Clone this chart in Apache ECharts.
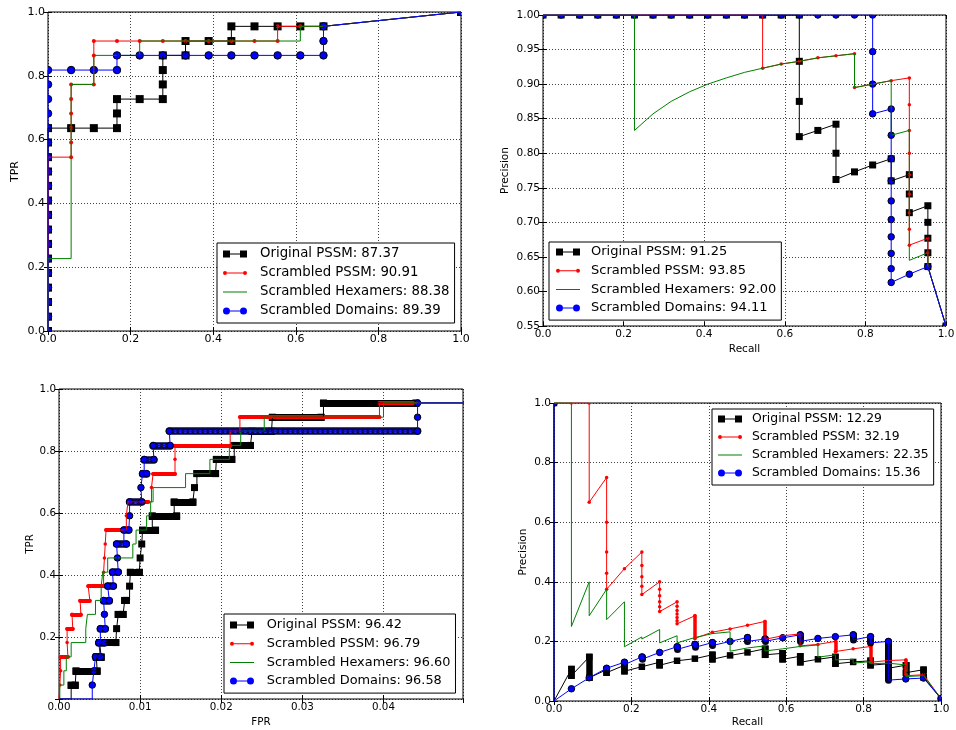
<!DOCTYPE html>
<html>
<head>
<meta charset="utf-8">
<title>ROC / PR curves</title>
<style>
  html, body { margin: 0; padding: 0; background: #fff; }
  #main { width: 956px; height: 730px; }
</style>
</head>
<body>
<div id="main"></div>
<script src="https://cdn.jsdelivr.net/npm/echarts@6.0.0/dist/echarts.min.js"></script>
<script>
// ---------- data ----------
// legend labels (name: score)
var roc1Names = ['Original PSSM: 87.37', 'Scrambled PSSM: 90.91', 'Scrambled Hexamers: 88.38', 'Scrambled Domains: 89.39'];
var pr1Names  = ['Original PSSM: 91.25', 'Scrambled PSSM: 93.85', 'Scrambled Hexamers: 92.00', 'Scrambled Domains: 94.11'];
var roc2Names = ['Original PSSM: 96.42', 'Scrambled PSSM: 96.79', 'Scrambled Hexamers: 96.60', 'Scrambled Domains: 96.58'];
var pr2Names  = ['Original PSSM: 12.29', 'Scrambled PSSM: 32.19', 'Scrambled Hexamers: 22.35', 'Scrambled Domains: 15.36'];

// top-left ROC, [FPR, TPR]
var roc1Black = [[0,0],[0,0.045],[0,0.091],[0,0.136],[0,0.182],[0,0.227],[0,0.273],[0,0.318],[0,0.364],[0,0.409],[0,0.455],[0,0.5],[0,0.545],[0,0.591],[0,0.636],
  [0.056,0.636],[0.111,0.636],[0.167,0.636],[0.167,0.682],[0.167,0.727],[0.222,0.727],[0.278,0.727],[0.278,0.773],[0.278,0.818],[0.278,0.864],
  [0.333,0.864],[0.333,0.909],[0.389,0.909],[0.444,0.909],[0.444,0.955],[0.5,0.955],[0.556,0.955],[0.611,0.955],[0.667,0.955],[1,1]];
var roc1Red = [[0,0],[0,0.045],[0,0.091],[0,0.136],[0,0.182],[0,0.227],[0,0.273],[0,0.318],[0,0.364],[0,0.409],[0,0.455],[0,0.5],[0,0.545],
  [0.056,0.545],[0.056,0.591],[0.056,0.636],[0.056,0.682],[0.056,0.727],[0.056,0.773],[0.111,0.773],[0.111,0.864],[0.111,0.909],
  [0.167,0.909],[0.222,0.909],[0.278,0.909],[0.333,0.909],[0.389,0.909],[0.444,0.909],[0.5,0.909],[0.556,0.909],[0.556,0.955],[0.611,0.955],[0.667,0.955],[1,1]];
var roc1Green = [[0,0],[0,0.227],[0.056,0.227],[0.056,0.773],[0.111,0.773],[0.111,0.864],[0.222,0.864],[0.222,0.909],[0.611,0.909],[0.611,0.955],[0.667,0.955],[1,1]];
var roc1Blue = [[0,0],[0,0.045],[0,0.091],[0,0.136],[0,0.182],[0,0.227],[0,0.273],[0,0.318],[0,0.364],[0,0.409],[0,0.455],[0,0.5],[0,0.545],[0,0.591],[0,0.636],[0,0.682],[0,0.727],[0,0.773],[0,0.818],
  [0.056,0.818],[0.111,0.818],[0.167,0.818],[0.167,0.864],[0.222,0.864],[0.278,0.864],[0.333,0.864],[0.389,0.864],[0.444,0.864],[0.5,0.864],[0.556,0.864],[0.611,0.864],[0.667,0.864],
  [0.667,0.909],[0.667,0.955],[1,1]];

// top-right PR, [recall, precision]
var pr1Black = [[0,1],[0.045,1],[0.091,1],[0.136,1],[0.182,1],[0.227,1],[0.273,1],[0.318,1],[0.364,1],[0.409,1],[0.455,1],[0.5,1],[0.545,1],[0.591,1],[0.636,1],
  [0.636,0.933],[0.636,0.875],[0.636,0.824],[0.682,0.833],[0.727,0.842],[0.727,0.8],[0.727,0.762],[0.773,0.773],[0.818,0.783],[0.864,0.792],[0.864,0.76],
  [0.909,0.769],[0.909,0.741],[0.909,0.714],[0.955,0.724],[0.955,0.7],[0.955,0.677],[0.955,0.656],[0.955,0.636],[1,0.55]];
var pr1Red = [[0,1],[0.045,1],[0.091,1],[0.136,1],[0.182,1],[0.227,1],[0.273,1],[0.318,1],[0.364,1],[0.409,1],[0.455,1],[0.5,1],[0.545,1],
  [0.545,0.923],[0.591,0.929],[0.636,0.933],[0.682,0.938],[0.727,0.941],[0.773,0.944],[0.773,0.895],[0.818,0.9],[0.864,0.905],[0.909,0.909],
  [0.909,0.87],[0.909,0.833],[0.909,0.8],[0.909,0.769],[0.909,0.741],[0.909,0.714],[0.909,0.69],[0.909,0.667],[0.955,0.677],[0.955,0.656],[0.955,0.636],[1,0.55]];
var pr1Green = [[0,1],[0.227,1],[0.227,0.833],[0.273,0.857],[0.318,0.875],[0.364,0.889],[0.409,0.9],[0.455,0.909],[0.5,0.917],[0.545,0.923],[0.591,0.929],
  [0.636,0.933],[0.682,0.938],[0.727,0.941],[0.773,0.944],[0.773,0.895],[0.818,0.9],[0.864,0.905],[0.864,0.826],[0.909,0.833],[0.909,0.645],[0.955,0.656],[0.955,0.636],[1,0.55]];
var pr1Blue = [[0,1],[0.045,1],[0.091,1],[0.136,1],[0.182,1],[0.227,1],[0.273,1],[0.318,1],[0.364,1],[0.409,1],[0.455,1],[0.5,1],[0.545,1],[0.591,1],[0.636,1],[0.682,1],[0.727,1],[0.773,1],[0.818,1],
  [0.818,0.947],[0.818,0.9],[0.818,0.857],[0.864,0.864],[0.864,0.826],[0.864,0.792],[0.864,0.76],[0.864,0.731],[0.864,0.704],[0.864,0.679],[0.864,0.655],[0.864,0.633],[0.864,0.613],
  [0.909,0.625],[0.955,0.636],[1,0.55]];

// bottom-left ROC (zoomed): steps [TPR, FPR from, FPR to]; first = start, last = end
var roc2Black = [[0,0,0],[0.045,0.0015,0.0020],[0.091,0.0021,0.0047],[0.136,0.0046,0.0052],[0.182,0.0050,0.0070],[0.227,0.0071,0.0071],
  [0.273,0.0073,0.0079],[0.318,0.0081,0.0083],[0.364,0.0087,0.0087],[0.409,0.0088,0.0099],[0.455,0.0100,0.0100],[0.5,0.0102,0.0102],
  [0.545,0.0103,0.0119],[0.591,0.0115,0.0145],[0.636,0.0142,0.0165],[0.682,0.0167,0.0167],[0.727,0.0170,0.0193],[0.773,0.0194,0.0213],
  [0.818,0.0216,0.0236],[0.864,0.0238,0.0262],[0.909,0.0263,0.0323],[0.955,0.0326,0.0440],[1,1,1]];
var roc2Red = [[0,0,0],[0.045,0.0001,0.0001],[0.091,0.0002,0.0002],[0.136,0.0002,0.0011],[0.182,0.0010,0.0010],[0.227,0.0010,0.0017],
  [0.273,0.0016,0.0027],[0.318,0.0026,0.0038],[0.364,0.0036,0.0055],[0.409,0.0055,0.0055],[0.455,0.0056,0.0056],[0.5,0.0057,0.0057],
  [0.545,0.0058,0.0078],[0.591,0.0083,0.0083],[0.636,0.0085,0.0110],[0.682,0.0114,0.0114],[0.727,0.0116,0.0143],[0.773,0.0143,0.0143],
  [0.818,0.0143,0.0211],[0.864,0.0211,0.0223],[0.909,0.0223,0.0395],[0.955,0.0395,0.0443],[1,1,1]];
var roc2Green = [[0,0.0001,0.0001],[0.045,0.0001,0.0006],[0.091,0.0006,0.0009],[0.136,0.0009,0.0015],[0.182,0.0015,0.0033],[0.227,0.0033,0.0035],
  [0.273,0.0035,0.0045],[0.318,0.0045,0.0052],[0.364,0.0052,0.0054],[0.409,0.0054,0.0060],[0.455,0.0060,0.0091],[0.5,0.0091,0.0095],
  [0.545,0.0095,0.0108],[0.591,0.0108,0.0113],[0.636,0.0113,0.0116],[0.682,0.0116,0.0156],[0.727,0.0156,0.0186],[0.773,0.0186,0.0210],
  [0.818,0.0210,0.0224],[0.864,0.0224,0.0253],[0.909,0.0253,0.0400],[0.955,0.0400,0.0443],[1,1,1]];
var roc2Blue = [[0,0,0],[0.045,0.0041,0.0041],[0.091,0.0043,0.0043],[0.136,0.0045,0.0051],[0.182,0.0049,0.0056],[0.227,0.0051,0.0057],
  [0.273,0.0056,0.0056],[0.318,0.0055,0.0062],[0.364,0.0060,0.0067],[0.409,0.0066,0.0073],[0.455,0.0072,0.0072],[0.5,0.0071,0.0083],
  [0.545,0.0080,0.0086],[0.591,0.0087,0.0087],[0.636,0.0087,0.0102],[0.682,0.0101,0.0101],[0.727,0.0103,0.0108],[0.773,0.0105,0.0117],
  [0.818,0.0116,0.0137],[0.864,0.0136,0.0442],[0.909,0.0442,0.0442],[0.955,0.0442,0.0442],[1,1,1]];

// bottom-right PR: steps [recall, precision values...]; dense = recalls where markers pile up
var pr2Black = [[0,1,0],[0.045,0.107,0.085],[0.091,0.148,0.078],[0.136,0.105,0.095],[0.182,0.12,0.1],[0.227,0.115],[0.273,0.13,0.12],
  [0.318,0.135],[0.364,0.142],[0.409,0.155,0.14],[0.455,0.153],[0.5,0.163],[0.545,0.175,0.155],[0.591,0.16,0.14],[0.636,0.15,0.13],
  [0.682,0.14],[0.727,0.148,0.125],[0.773,0.131],[0.818,0.135,0.12],[0.864,0.125,0.11],[0.909,0.12,0.095],[0.955,0.105,0.08],[1,0.008]];
var pr2BlackDense = [0.045,0.091,0.136,0.182,0.273,0.409,0.545,0.591,0.636,0.727,0.818,0.864,0.909,0.955];
var pr2Red = [[0,1],[0.045,1],[0.091,1,0.667],[0.136,0.75,0.6,0.5,0.429,0.375],[0.182,0.444],[0.227,0.5,0.455,0.417,0.385,0.357],
  [0.273,0.4,0.375,0.353,0.333,0.316,0.3],[0.318,0.333,0.318,0.304,0.292,0.28,0.269,0.259],[0.364,0.286,0.21],[0.409,0.231],[0.455,0.242],
  [0.5,0.254],[0.545,0.267,0.207],[0.591,0.219],[0.636,0.225,0.185],[0.682,0.19],[0.727,0.2,0.166],[0.773,0.175],[0.818,0.183,0.13],
  [0.864,0.136],[0.909,0.138,0.085],[0.955,0.088],[1,0.008]];
var pr2RedDense = [0.364,0.545,0.727,0.818,0.909];
var pr2Green = [[0,1],[0.045,1,0.25],[0.091,0.4,0.286],[0.136,0.375,0.273],[0.182,0.333,0.182],[0.227,0.215,0.208],[0.273,0.24,0.195],
  [0.318,0.219,0.195],[0.364,0.213],[0.409,0.226],[0.455,0.232,0.167],[0.5,0.178],[0.545,0.185,0.168],[0.591,0.175],[0.636,0.183],
  [0.682,0.188,0.147],[0.727,0.155,0.138],[0.773,0.14,0.127],[0.818,0.132,0.125],[0.864,0.127],[0.909,0.121,0.082],[0.955,0.085],[1,0.008]];
var pr2Blue = [[0,1,0],[0.045,0.041],[0.091,0.078],[0.136,0.11],[0.182,0.13,0.122],[0.227,0.148,0.14],[0.273,0.163],[0.318,0.182,0.173],
  [0.364,0.19,0.18],[0.409,0.196,0.186],[0.455,0.2],[0.5,0.213,0.2],[0.545,0.208,0.2],[0.591,0.212],[0.636,0.222,0.2],[0.682,0.21],
  [0.727,0.216],[0.773,0.222,0.205],[0.818,0.216,0.195],[0.864,0.2,0.07],[0.909,0.074],[0.955,0.077],[1,0.008]];
var pr2BlueDense = [0.182,0.227,0.318,0.364,0.409,0.5,0.545,0.636,0.773,0.818,0.864];

// ---------- chart ----------
var FONT = 'DejaVu Sans';
var BLACK = '#000000', RED = '#ff0000', GREEN = '#008000', BLUE = '#0000ff';
var COLORS = [BLACK, RED, GREEN, BLUE];
var PAD = 'M12,0h0.01v0.01h-0.01zM12,7.99h0.01v0.01h-0.01z';
var ICONS = [
  'path://M0,0.5h7v7h-7zM7,3.5h10v1h-10zM17,0.5h7v7h-7z' + PAD,
  'path://M0,4a2,2 0 1,0 4,0a2,2 0 1,0 -4,0zM4,3.5h16v1h-16zM20,4a2,2 0 1,0 4,0a2,2 0 1,0 -4,0z' + PAD,
  'path://M0,3.5h24v1h-24z' + PAD,
  'path://M0,4a3.5,3.5 0 1,0 7,0a3.5,3.5 0 1,0 -7,0zM7,3.5h10v1h-10zM17,4a3.5,3.5 0 1,0 7,0a3.5,3.5 0 1,0 -7,0z' + PAD
];

var panels = [
  { grid: {left: 48, top: 12, width: 413, height: 319}, x: [0, 1, 0.2, 1], y: [0, 1, 0.2, 1], fs: 11,
    xName: '', xGap: 18, yName: 'TPR', yGap: 27, hideY0: false, hideXMax: false,
    lg: {left: 217, top: 243, padding: [4, 5, 5, 6], fs: 13.3, gap: 5, tp: 8}, names: roc1Names },
  { grid: {left: 543, top: 15, width: 403, height: 311}, x: [0, 1, 0.2, 1], y: [0.55, 1, 0.05, 2], fs: 10.5,
    xName: 'Recall', xGap: 18, yName: 'Precision', yGap: 32, hideY0: false, hideXMax: false,
    lg: {left: 549, top: 242, padding: [3, 5, 5, 7], fs: 13, gap: 4.7, tp: 6}, names: pr1Names },
  { grid: {left: 59, top: 389, width: 404, height: 310}, x: [0, 0.0498, 0.01, 2], y: [0, 1, 0.2, 1], fs: 10.3,
    xName: 'FPR', xGap: 18, yName: 'TPR', yGap: 24, hideY0: true, hideXMax: true,
    lg: {left: 224, top: 614, padding: [4, 5, 5, 6], fs: 12.9, gap: 4.7, tp: 7.7}, names: roc2Names },
  { grid: {left: 554, top: 403, width: 387, height: 298}, x: [0, 1, 0.2, 1], y: [0, 1, 0.2, 1], fs: 10.5,
    xName: 'Recall', xGap: 16, yName: 'Precision', yGap: 25, hideY0: false, hideXMax: false,
    lg: {left: 712, top: 409, padding: [3, 5, 5, 6], fs: 12.4, gap: 4, tp: 5}, names: pr2Names }
];

function fmt(dec, hideZero) {
  return function (v) {
    if (hideZero && Math.abs(v) < 1e-9) return '';
    return v.toFixed(dec);
  };
}

var grids = [], xAxes = [], yAxes = [], legends = [], series = [];
panels.forEach(function (p, i) {
  grids.push(Object.assign({show: true, borderColor: '#000', borderWidth: 1, backgroundColor: '#fff',
    containLabel: false, outerBoundsMode: 'none'}, p.grid));
  var tick = {show: true, inside: true, length: 4, lineStyle: {color: '#000', width: 1}};
  var split = {show: true, lineStyle: {color: '#000', width: 1, type: [1, 2], opacity: 0.75}};
  var nameStyle = {color: '#000', fontFamily: FONT, fontSize: p.fs};
  xAxes.push({type: 'value', gridIndex: i, position: 'bottom', min: p.x[0], max: p.x[1], interval: p.x[2],
    axisLine: {show: false}, axisTick: tick, splitLine: split,
    axisLabel: {color: '#000', fontFamily: FONT, fontSize: p.fs, margin: 3, formatter: fmt(p.x[3], false),
      showMaxLabel: p.hideXMax ? false : null},
    name: p.xName, nameLocation: 'middle', nameGap: p.xGap, nameTextStyle: nameStyle});
  yAxes.push({type: 'value', gridIndex: i, position: 'left', min: p.y[0], max: p.y[1], interval: p.y[2],
    axisLine: {show: false}, axisTick: tick, splitLine: split,
    axisLabel: {color: '#000', fontFamily: FONT, fontSize: p.fs, margin: 3, formatter: fmt(p.y[3], p.hideY0)},
    name: p.yName, nameLocation: 'middle', nameGap: p.yGap, nameRotate: 90, nameTextStyle: nameStyle});
  legends.push({
    show: true, orient: 'vertical', left: p.lg.left, top: p.lg.top, padding: p.lg.padding,
    itemWidth: 24, itemHeight: 8, itemGap: p.lg.gap, selectedMode: false,
    backgroundColor: '#fff', borderColor: '#000', borderWidth: 1, borderRadius: 0,
    textStyle: {color: '#000', fontFamily: FONT, fontSize: p.lg.fs, lineHeight: 14, padding: [0, 0, 0, p.lg.tp]},
    data: p.names.map(function (n, j) {
      return {name: n, icon: ICONS[j], itemStyle: {color: COLORS[j], borderWidth: 0}};
    }),
    z: 10
  });
});
// mirrored tick-only axes on top and right
panels.forEach(function (p, i) {
  var tick = {show: true, inside: true, length: 4, lineStyle: {color: '#000', width: 1}};
  xAxes.push({type: 'value', gridIndex: i, position: 'top', min: p.x[0], max: p.x[1], interval: p.x[2],
    axisLine: {show: false}, axisTick: tick, axisLabel: {show: false}, splitLine: {show: false}});
  yAxes.push({type: 'value', gridIndex: i, position: 'right', min: p.y[0], max: p.y[1], interval: p.y[2],
    axisLine: {show: false}, axisTick: tick, axisLabel: {show: false}, splitLine: {show: false}});
});

function pathSeries(gi, name, data, color) {
  return {
    type: 'line', name: name, xAxisIndex: gi, yAxisIndex: gi, data: data,
    symbol: 'none', showSymbol: false, clip: true, silent: true, animation: false,
    lineStyle: {color: color, width: 1}, itemStyle: {color: color},
    emphasis: {disabled: true}
  };
}
// markers as a custom series so they are cut at the plot frame like the original
function markSeries(gi, data, color, sym, size, border) {
  return {
    type: 'custom', xAxisIndex: gi, yAxisIndex: gi, data: data, encode: {x: 0, y: 1},
    clip: true, silent: true, animation: false,
    renderItem: function (params, api) {
      var c = api.coord([api.value(0), api.value(1)]);
      var style = {fill: color, stroke: border || null, lineWidth: border ? 1 : 0};
      if (sym === 'rect') {
        return {type: 'rect', shape: {x: c[0] - size / 2, y: c[1] - size / 2, width: size, height: size}, style: style};
      }
      return {type: 'circle', shape: {cx: c[0], cy: c[1], r: size / 2}, style: style};
    }
  };
}
function runSeries(gi, segs, color, width, cap, type) {
  return {
    type: 'lines', coordinateSystem: 'cartesian2d', xAxisIndex: gi, yAxisIndex: gi,
    data: segs.map(function (s) { return {coords: s}; }),
    polyline: false, silent: true, animation: false, clip: true,
    lineStyle: {color: color, width: width, cap: cap, type: type || 'solid', opacity: 1, curveness: 0}
  };
}

// horizontal step helpers (bottom-left ROC)
function hPath(steps) {
  var out = [], prev = null;
  steps.forEach(function (s) {
    if (prev !== null) out.push([s[1], prev]);
    out.push([s[1], s[0]]);
    if (s[2] !== s[1]) out.push([s[2], s[0]]);
    prev = s[0];
  });
  return out;
}
function hMarks(steps) {
  var out = [];
  steps.slice(1, -1).forEach(function (s) {
    out.push([s[1], s[0]]);
    if (s[2] !== s[1]) out.push([s[2], s[0]]);
  });
  return out;
}
function hRuns(steps) {
  return steps.slice(1, -1).filter(function (s) { return s[2] > s[1]; })
    .map(function (s) { return [[s[1], s[0]], [s[2], s[0]]]; });
}
// vertical step helpers (bottom-right PR)
function vPath(steps) {
  var out = [];
  steps.forEach(function (s) { for (var k = 1; k < s.length; k++) out.push([s[0], s[k]]); });
  return out;
}
function vMarks(steps, dense, topOnly) {
  var out = [];
  steps.forEach(function (s, idx) {
    var isDense = dense.indexOf(s[0]) >= 0;
    var n = (idx === 0 || (topOnly && isDense)) ? 2 : s.length;
    for (var k = 1; k < n; k++) out.push([s[0], s[k]]);
  });
  return out;
}
function vRuns(steps, dense) {
  return steps.filter(function (s) { return dense.indexOf(s[0]) >= 0; })
    .map(function (s) { return [[s[0], s[1]], [s[0], s[s.length - 1]]]; });
}

// panel 0: top-left ROC
series.push(pathSeries(0, roc1Names[0], roc1Black, BLACK));
series.push(markSeries(0, roc1Black, BLACK, 'rect', 8));
series.push(pathSeries(0, roc1Names[1], roc1Red, RED));
series.push(markSeries(0, roc1Red, RED, 'circle', 4));
series.push(pathSeries(0, roc1Names[2], roc1Green, GREEN));
series.push(pathSeries(0, roc1Names[3], roc1Blue, BLUE));
series.push(markSeries(0, roc1Blue, BLUE, 'circle', 7.5, '#000'));
// panel 1: top-right PR
series.push(pathSeries(1, pr1Names[0], pr1Black, BLACK));
series.push(markSeries(1, pr1Black, BLACK, 'rect', 7));
series.push(pathSeries(1, pr1Names[1], pr1Red, RED));
series.push(markSeries(1, pr1Red, RED, 'circle', 3.5));
series.push(pathSeries(1, pr1Names[2], pr1Green, GREEN));
series.push(pathSeries(1, pr1Names[3], pr1Blue, BLUE));
series.push(markSeries(1, pr1Blue, BLUE, 'circle', 6.5, '#000'));
// panel 2: bottom-left ROC
series.push(pathSeries(2, roc2Names[0], hPath(roc2Black), BLACK));
series.push(runSeries(2, hRuns(roc2Black), BLACK, 7, 'square'));
series.push(markSeries(2, hMarks(roc2Black), BLACK, 'rect', 7));
series.push(pathSeries(2, roc2Names[1], hPath(roc2Red), RED));
series.push(runSeries(2, hRuns(roc2Red), RED, 4, 'round'));
series.push(markSeries(2, hMarks(roc2Red), RED, 'circle', 3.5));
series.push(pathSeries(2, roc2Names[2], hPath(roc2Green), GREEN));
series.push(pathSeries(2, roc2Names[3], hPath(roc2Blue), BLUE));
series.push(runSeries(2, hRuns(roc2Blue), '#0a0a4a', 7.5, 'round'));
series.push(runSeries(2, hRuns(roc2Blue), '#2a2aff', 3, 'butt', [2, 3]));
series.push(markSeries(2, hMarks(roc2Blue), BLUE, 'circle', 6.5, '#000'));
// panel 3: bottom-right PR
series.push(pathSeries(3, pr2Names[0], vPath(pr2Black), BLACK));
series.push(runSeries(3, vRuns(pr2Black, pr2BlackDense), BLACK, 6.5, 'square'));
series.push(markSeries(3, vMarks(pr2Black, pr2BlackDense, false), BLACK, 'rect', 6.5));
series.push(pathSeries(3, pr2Names[1], vPath(pr2Red), RED));
series.push(runSeries(3, vRuns(pr2Red, pr2RedDense), RED, 3.5, 'round'));
series.push(markSeries(3, vMarks(pr2Red, pr2RedDense, false), RED, 'circle', 3.5));
series.push(pathSeries(3, pr2Names[2], vPath(pr2Green), GREEN));
series.push(pathSeries(3, pr2Names[3], vPath(pr2Blue), BLUE));
series.push(runSeries(3, vRuns(pr2Blue, pr2BlueDense), '#05051e', 7, 'round'));
series.push(markSeries(3, vMarks(pr2Blue, pr2BlueDense, true), BLUE, 'circle', 6.5, '#000'));

var chart = echarts.init(document.getElementById('main'), null, {renderer: 'canvas'});
chart.setOption({
  backgroundColor: '#fff',
  animation: false,
  textStyle: {fontFamily: FONT},
  grid: grids,
  xAxis: xAxes,
  yAxis: yAxes,
  legend: legends,
  series: series
});
</script>
</body>
</html>
